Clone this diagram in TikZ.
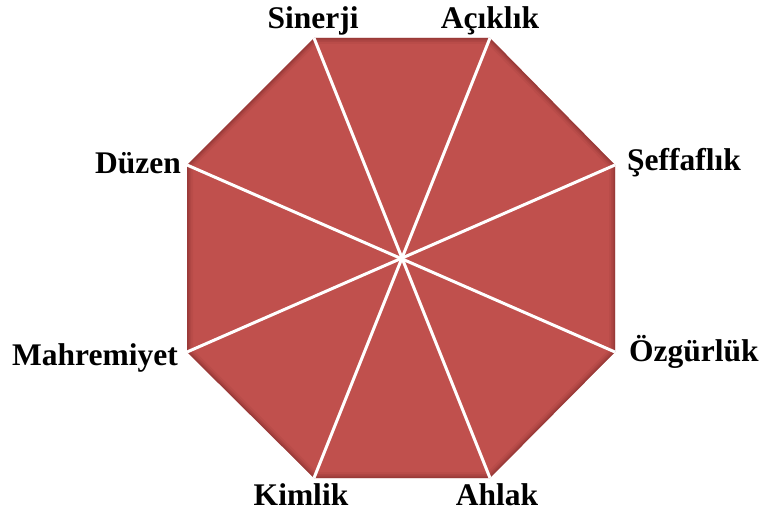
\documentclass[tikz,border=0pt]{standalone}
\usepackage{fontspec}
\setmainfont{Liberation Serif}
\usepackage{xcolor}
\usepackage{tikz}
\usetikzlibrary{calc}

\definecolor{wedgered}{HTML}{C0504D}
\definecolor{shadered}{HTML}{6E2220}

\begin{document}
\begin{tikzpicture}[x=1pt, y=-1pt,
    lbl/.style={font=\fontsize{31.5}{36}\selectfont\bfseries, inner sep=2pt},
    spoke/.style={draw=white, line width=3pt},
  ]
    \useasboundingbox (0,0) rectangle (760,521);

    % Corners
    \coordinate (sin) at (314,38);
    \coordinate (aci) at (490,38);
    \coordinate (sef) at (615,165);
    \coordinate (ozg) at (615,352);
    \coordinate (ahl) at (490,478);
    \coordinate (kim) at (314,478);
    \coordinate (mah) at (187,352);
    \coordinate (duz) at (187,165);
    \coordinate (mid) at (401.5,258);

    % Octagon with soft inner edge
    \fill[wedgered] (sin) -- (aci) -- (sef) -- (ozg) -- (ahl) -- (kim) -- (mah) -- (duz) -- cycle;
    \begin{scope}
      \clip (sin) -- (aci) -- (sef) -- (ozg) -- (ahl) -- (kim) -- (mah) -- (duz) -- cycle;
      \foreach \w/\o in {12/0.08, 8/0.12, 5/0.15, 2.5/0.2}
        \draw[shadered, line width=\w pt, opacity=\o, line join=miter]
          (sin) -- (aci) -- (sef) -- (ozg) -- (ahl) -- (kim) -- (mah) -- (duz) -- cycle;
    \end{scope}

    % Spokes
    \draw[spoke] (sin) -- (ahl);
    \draw[spoke] (aci) -- (kim);
    \draw[spoke] (sef) -- (mah);
    \draw[spoke] (duz) -- (ozg);

    % Labels
    \node[lbl, anchor=south] (lsin) at (313,37) {Sinerji};
    \node[lbl, anchor=south] (laci) at (490,37) {Açıklık};
    \node[lbl, anchor=west] (lsef) at (625,163) {Şeffaflık};
    \node[lbl, anchor=west] (lozg) at (627,352) {Özgürlük};
    \node[lbl, anchor=north] (lahl) at (497,481) {Ahlak};
    \node[lbl, anchor=north] (lkim) at (301,481) {Kimlik};
    \node[lbl, anchor=east] (lmah) at (180,358) {Mahremiyet};
    \node[lbl, anchor=east] (lduz) at (183,163) {Düzen};
  \end{tikzpicture}
\end{document}
